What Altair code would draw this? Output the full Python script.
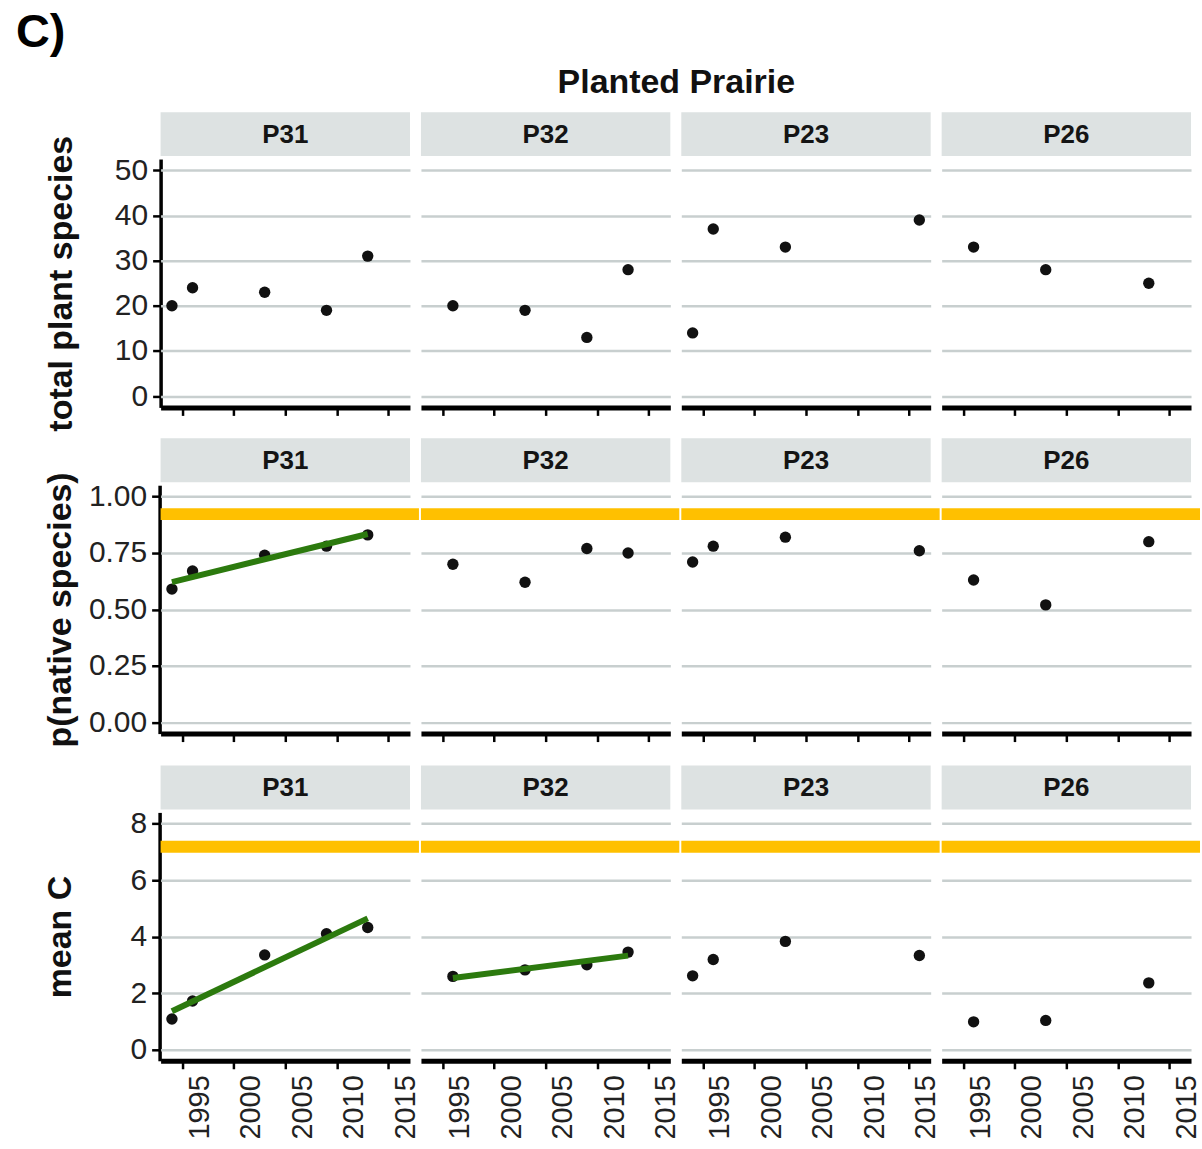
import altair as alt
import pandas as pd

# ---------------- data ----------------
panels = ["P31", "P32", "P23", "P26"]

years_P31 = [1994, 1996, 2003, 2009, 2013]
years_P32 = [1996, 2003, 2009, 2013]
years_P23 = [1994, 1996, 2003, 2016]
years_P26 = [1996, 2003, 2013]

total_P31 = [20, 24, 23, 19, 31]
total_P32 = [20, 19, 13, 28]
total_P23 = [14, 37, 33, 39]
total_P26 = [33, 28, 25]

native_P31 = [0.59, 0.67, 0.74, 0.78, 0.83]
native_P32 = [0.70, 0.62, 0.77, 0.75]
native_P23 = [0.71, 0.78, 0.82, 0.76]
native_P26 = [0.63, 0.52, 0.80]

meanc_P31 = [1.08, 1.72, 3.35, 4.10, 4.32]
meanc_P32 = [2.59, 2.82, 3.00, 3.45]
meanc_P23 = [2.61, 3.19, 3.83, 3.33]
meanc_P26 = [0.98, 1.03, 2.36]

trend_native = ["P31"]
trend_meanc = ["P31", "P32"]
trend_total = []

band_native = 0.922
band_meanc = 7.18

x_ticks = [1995, 2000, 2005, 2010, 2015]

years = {"P31": years_P31, "P32": years_P32, "P23": years_P23, "P26": years_P26}


def build(values, trend):
    rows = []
    for p in panels:
        for yr, v in zip(years[p], values[p]):
            rows.append({"panel": p, "year": yr, "value": v, "trend": p in trend})
    return pd.DataFrame(rows)


df_total = build({"P31": total_P31, "P32": total_P32, "P23": total_P23, "P26": total_P26}, trend_total)
df_native = build({"P31": native_P31, "P32": native_P32, "P23": native_P23, "P26": native_P26}, trend_native)
df_meanc = build({"P31": meanc_P31, "P32": meanc_P32, "P23": meanc_P23, "P26": meanc_P26}, trend_meanc)

# ---------------- styling ----------------
FONT = "Liberation Sans"
W, H = 250, 249
GAP = 11
BAND_PX = 12
GREEN = "#2c7a0e"
STRIP = "#dde2e2"
ORANGE = "#ffc000"


def row_chart(df, ytitle, ydomain, yvalues, yformat, band=None, x_labels=False, header_title=None):
    base = alt.Chart(df)
    xenc = alt.X(
        "year:Q",
        scale=alt.Scale(domain=[1992.9, 2017.1], nice=False, zero=False),
        axis=alt.Axis(values=x_ticks, format="d", labels=x_labels, title=None, grid=False,
                      labelAngle=270, labelAlign="right", labelBaseline="top",
                      labelOffset=3, labelPadding=6, labelFontSize=29),
    )
    yenc = alt.Y(
        "value:Q",
        scale=alt.Scale(domain=ydomain, nice=False, zero=False),
        axis=alt.Axis(values=yvalues, format=yformat, title=ytitle, titleX=-82),
    )
    one = base.transform_aggregate(n="count()", groupby=["panel"])
    strip = one.mark_rect(fill=STRIP, strokeWidth=0).encode(
        x=alt.value(0), x2=alt.value(W), y=alt.value(-47), y2=alt.value(-3)
    )
    strip_txt = one.mark_text(font=FONT, fontSize=26, fontWeight="bold", color="#141414").encode(
        x=alt.value(W / 2), y=alt.value(-24), text="panel:N"
    )
    pts = base.mark_circle(size=130, color="#111111", opacity=1).encode(x=xenc, y=yenc)
    fit = (
        base.transform_filter(alt.datum.trend)
        .transform_regression("year", "value", groupby=["panel"])
        .mark_line(color=GREEN, strokeWidth=6)
        .encode(x="year:Q", y="value:Q")
    )
    layers = [strip, strip_txt, pts, fit]
    spacing = GAP
    if band is not None:
        half = BAND_PX / 2 / H * (ydomain[1] - ydomain[0])
        layers.append(
            one.mark_rect(fill=ORANGE, strokeWidth=0).encode(
                y=alt.datum(band - half), y2=alt.datum(band + half),
                x=alt.value(0), x2=alt.value(W + GAP - 2)
            )
        )
        spacing = 2
    if header_title:
        col = alt.Column(
            "panel:N", sort=panels, title=header_title,
            header=alt.Header(labels=False, titleFont=FONT, titleFontSize=34,
                              titleFontWeight="bold", titleColor="#111111", titlePadding=2),
        )
    else:
        col = alt.Column("panel:N", sort=panels, title=None, header=alt.Header(labels=False))
    return alt.layer(*layers).properties(width=W, height=H).facet(column=col, spacing=spacing)


r1 = row_chart(df_total, "total plant species", [-2.5, 52.5], [0, 10, 20, 30, 40, 50], "d",
               header_title="Planted Prairie")
r2 = row_chart(df_native, "p(native species)", [-0.05, 1.05], [0, 0.25, 0.5, 0.75, 1.0], ".2f",
               band=band_native)
r3 = row_chart(df_meanc, "mean C", [-0.4, 8.4], [0, 2, 4, 6, 8], "d", band=band_meanc, x_labels=True)

top_block = alt.vconcat(r1, r2, spacing=7).resolve_scale(x="independent", y="independent")

chart = (
    alt.vconcat(top_block, r3, spacing=18)
    .resolve_scale(x="independent", y="independent")
    .properties(
        title=alt.TitleParams("C)", anchor="start", frame="bounds", font=FONT, fontSize=47,
                              fontWeight="bold", color="#000000", dx=-28, dy=-9, offset=0),
        padding={"left": 16, "top": 8, "right": 0, "bottom": 3},
        background="white",
    )
    .configure_view(strokeWidth=0)
    .configure_axis(
        labelFont=FONT, labelFontSize=30, labelColor="#222222",
        titleFont=FONT, titleFontSize=34, titleFontWeight="bold", titleColor="#111111",
        domainColor="#000000", tickColor="#000000", tickSize=8, tickWidth=2.5,
        gridColor="#c8cfcf", gridWidth=2.5, labelPadding=5,
    )
    .configure_axisX(domainWidth=5)
    .configure_axisY(domainWidth=3.5)
)

chart.save("out.html", embed_options={"renderer": "svg", "actions": False})
